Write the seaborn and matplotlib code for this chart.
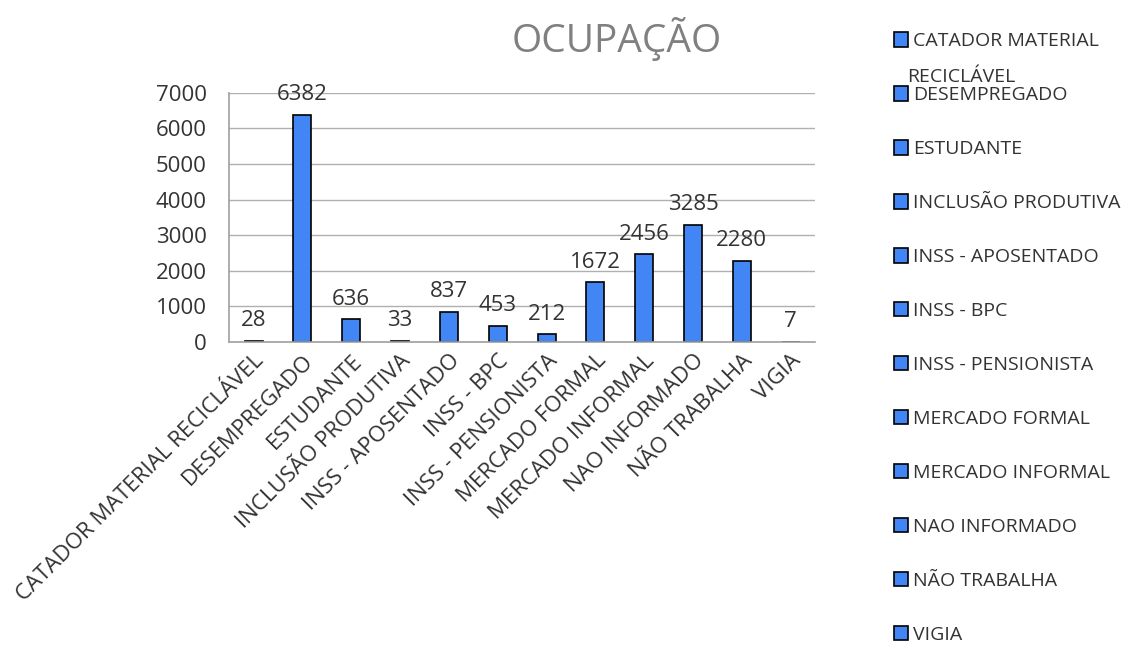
import matplotlib
matplotlib.use("Agg")
import matplotlib.pyplot as plt
import seaborn as sns
import pandas as pd

# data
categorias = [
    "CATADOR MATERIAL RECICLÁVEL", "DESEMPREGADO", "ESTUDANTE", "INCLUSÃO PRODUTIVA",
    "INSS - APOSENTADO", "INSS - BPC", "INSS - PENSIONISTA", "MERCADO FORMAL",
    "MERCADO INFORMAL", "NAO INFORMADO", "NÃO TRABALHA", "VIGIA",
]
legenda = [
    "CATADOR MATERIAL", "DESEMPREGADO", "ESTUDANTE", "INCLUSÃO PRODUTIVA",
    "INSS - APOSENTADO", "INSS - BPC", "INSS - PENSIONISTA", "MERCADO FORMAL",
    "MERCADO INFORMAL", "NAO INFORMADO", "NÃO TRABALHA", "VIGIA",
]
valores = [28, 6382, 636, 33, 837, 453, 212, 1672, 2456, 3285, 2280, 7]
yticks = [0, 1000, 2000, 3000, 4000, 5000, 6000, 7000]

df = pd.DataFrame({"ocupacao": categorias, "total": valores})

sns.set_style("white")
plt.rcParams["font.family"] = ["Open Sans", "DejaVu Sans"]
texto = "#333333"

fig = plt.figure(figsize=(11.4, 6.45), dpi=100)
ax = fig.add_axes([0.201, 0.470, 0.514, 0.386])

sns.barplot(data=df, x="ocupacao", y="total", color="#4285F4", saturation=1,
            edgecolor="black", linewidth=1.2, width=0.37, ax=ax)

ax.set_ylim(0, 7000)
ax.set_yticks(yticks)
ax.set_yticklabels([str(t) for t in yticks], fontsize=16, color=texto)
ax.set_xlim(-0.5, len(categorias) - 0.5)
ax.grid(axis="y", color="#b0b0b0", linewidth=1)
ax.set_axisbelow(True)
for s in ["top", "right"]:
    ax.spines[s].set_visible(False)
for s in ["left", "bottom"]:
    ax.spines[s].set_color("#a0a0a0")
    ax.spines[s].set_linewidth(1.2)
ax.tick_params(axis="both", length=0)
ax.tick_params(axis="y", pad=16)
ax.tick_params(axis="x", pad=6)
ax.set_xticks(range(len(categorias)))
ax.set_xticklabels(categorias, rotation=45, ha="right", rotation_mode="anchor",
                   fontsize=16, color=texto)
ax.set_xlabel("")
ax.set_ylabel("")

ax.bar_label(ax.containers[0], labels=[str(v) for v in valores], padding=7,
             fontsize=16, color=texto)

fig.text(0.541, 0.94, "OCUPAÇÃO", ha="center", va="center", fontsize=28,
         color="#808080")

handles = list(ax.containers[0].patches)
fig.legend(handles, legenda, loc="upper left", bbox_to_anchor=(0.777, 0.962),
           frameon=False, fontsize=14, labelspacing=1.85, handlelength=0.75,
           handleheight=0.75, handletextpad=0.25, borderaxespad=0,
           labelcolor=texto)
# segunda linha do primeiro item da legenda
fig.text(0.796, 0.881, "RECICLÁVEL", ha="left", va="center", fontsize=14,
         color=texto)

fig.savefig("out.png", dpi=100)
